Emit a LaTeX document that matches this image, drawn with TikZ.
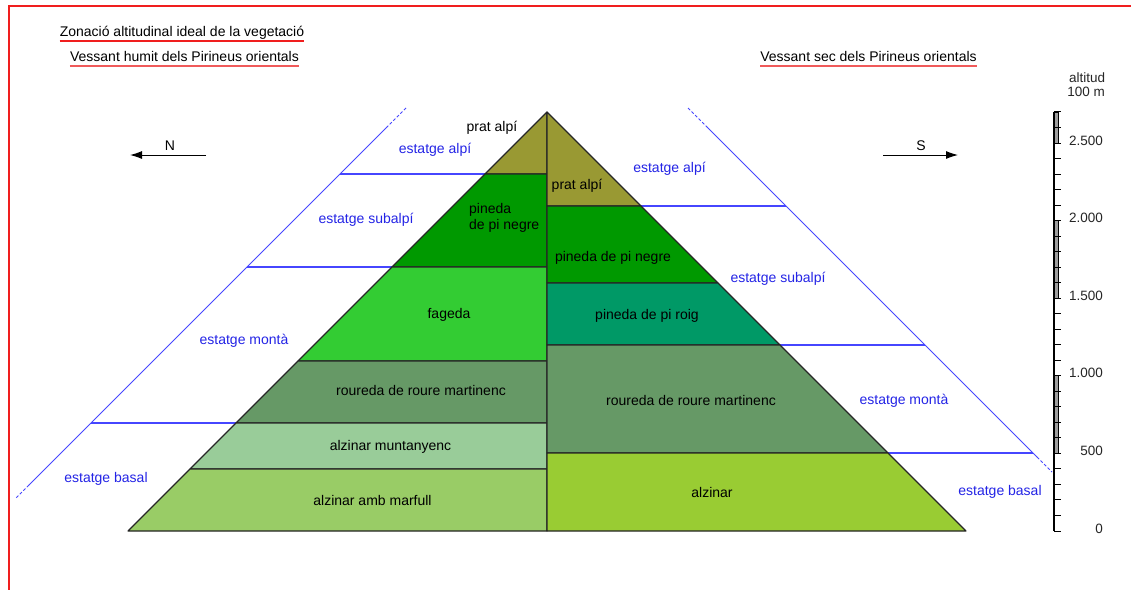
\documentclass[tikz,border=0pt]{standalone}
\usepackage{fontspec}
\setmainfont{Liberation Sans}
\usetikzlibrary{arrows.meta}
\definecolor{pratcol}{RGB}{153,153,51}
\definecolor{negrecol}{RGB}{0,153,0}
\definecolor{fagcol}{RGB}{51,204,51}
\definecolor{rourecol}{RGB}{102,153,102}
\definecolor{muntcol}{RGB}{153,204,153}
\definecolor{marfcol}{RGB}{153,204,102}
\definecolor{roigcol}{RGB}{0,153,102}
\definecolor{alzcol}{RGB}{153,204,51}
\definecolor{zonetext}{RGB}{36,36,230}
\definecolor{zoneblue}{RGB}{70,70,255}
\definecolor{framered}{RGB}{240,30,30}
\definecolor{subred}{RGB}{240,90,90}

\begin{document}
\begin{tikzpicture}[
    x=1pt, y=-1pt,
    lbl/.style={font=\fontsize{14}{16}\selectfont, inner sep=0pt},
    zone/.style={lbl, text=zonetext},
    band/.style={draw=black!85, line width=1.1pt, line join=round},
    zoneedge/.style={draw=zoneblue, line width=0.9pt},
    zoneline/.style={draw=zoneblue, line width=1.3pt},
    gapline/.style={zoneedge, dash pattern=on 3pt off 2pt},
    compass/.style={line width=1pt, -{Latex[length=12pt,width=8pt]}},
    scalenum/.style={font=\fontsize{13.5}{15}\selectfont, inner sep=0pt, text=black!85}
]
    \useasboundingbox (0,0) rectangle (1131,590);
    \fill[white] (0,0) rectangle (1131,590);
    \draw[framered, line width=1.4pt] (1131,6) -- (9,6) -- (9,590);

    \node (title) [lbl, anchor=base] at (182,36.7) {Zonació altitudinal ideal de la vegetació};
    \node (humit) [lbl, anchor=base] at (184.5,61.7) {Vessant humit dels Pirineus orientals};
    \node (sec) [lbl, anchor=base] at (868.5,61.7) {Vessant sec dels Pirineus orientals};
    \draw[framered, line width=1.5pt] ([yshift=-4.5pt]title.base west) -- ([yshift=-4.5pt]title.base east);
    \draw[subred, line width=1.5pt] ([yshift=-4.5pt]humit.base west) -- ([yshift=-4.5pt]humit.base east);
    \draw[subred, line width=1.5pt] ([yshift=-4.5pt]sec.base west) -- ([yshift=-4.5pt]sec.base east);

    \coordinate (n0) at (206,155);
    \coordinate (n1) at (130,155);
    \coordinate (s0) at (883,155);
    \coordinate (s1) at (958,155);
    \draw[compass] (n0) -- (n1);
    \draw[compass] (s0) -- (s1);
    \node (north) [lbl, anchor=base] at (170,150) {N};
    \node (south) [lbl, anchor=base] at (921,150.5) {S};

    \coordinate (Ltop) at (406,108);
    \coordinate (La) at (387,127);
    \coordinate (Lb) at (29,485);
    \coordinate (Lbot) at (15,499);
    \coordinate (Rtop) at (688,108);
    \coordinate (Ra) at (707,127);
    \coordinate (Rb) at (1037,457);
    \coordinate (Rbot) at (1052,472);
    \draw[gapline] (Ltop) -- (La);
    \draw[zoneedge] (La) -- (Lb);
    \draw[gapline] (Lb) -- (Lbot);
    \draw[gapline] (Rtop) -- (Ra);
    \draw[zoneedge] (Ra) -- (Rb);
    \draw[gapline] (Rb) -- (Rbot);
    \foreach \y in {174,267,423}
        \draw[zoneline] ({514-\y},\y) -- ({659-\y},\y);
    \foreach \y in {206,345,453}
        \draw[zoneline] ({435+\y},\y) -- ({580+\y},\y);

    \foreach \ya/\yb/\col in {112/174/pratcol,174/267/negrecol,267/361/fagcol,361/423/rourecol,423/469/muntcol,469/531/marfcol}
        \filldraw[band, fill=\col] ({659-\ya},\ya) -- (547,\ya) -- (547,\yb) -- ({659-\yb},\yb) -- cycle;
    \foreach \ya/\yb/\col in {112/206/pratcol,206/283/negrecol,283/345/roigcol,345/453/rourecol,453/531/alzcol}
        \filldraw[band, fill=\col] (547,\ya) -- ({435+\ya},\ya) -- ({435+\yb},\yb) -- (547,\yb) -- cycle;

    \node (Lalpi) [zone, anchor=base] at (435,153.5) {estatge alpí};
    \node (Lsubalpi) [zone, anchor=base] at (366,223.5) {estatge subalpí};
    \node (Lmonta) [zone, anchor=base] at (244,344.5) {estatge montà};
    \node (Lbasal) [zone, anchor=base] at (106,482) {estatge basal};
    \node (Ralpi) [zone, anchor=base] at (669.5,172.5) {estatge alpí};
    \node (Rsubalpi) [zone, anchor=base] at (778,282) {estatge subalpí};
    \node (Rmonta) [zone, anchor=base] at (904,404) {estatge montà};
    \node (Rbasal) [zone, anchor=base] at (1000,495.5) {estatge basal};

    \node (Lprat) [lbl, anchor=base] at (492,131) {prat alpí};
    \node (Lnegre) [lbl, anchor=west, align=left] at (469,218) {pineda\\de pi negre};
    \node (Lfageda) [lbl, anchor=base] at (449,318.5) {fageda};
    \node (Lroure) [lbl, anchor=base] at (421,395) {roureda de roure martinenc};
    \node (Lmunt) [lbl, anchor=base] at (390.5,450.5) {alzinar muntanyenc};
    \node (Lmarf) [lbl, anchor=base] at (372.5,505) {alzinar amb marfull};
    \node (Rprat) [lbl, anchor=base] at (577,189.5) {prat alpí};
    \node (Rnegre) [lbl, anchor=base] at (613,261) {pineda de pi negre};
    \node (Rroig) [lbl, anchor=base] at (647,319.5) {pineda de pi roig};
    \node (Rroure) [lbl, anchor=base] at (691,405) {roureda de roure martinenc};
    \node (Ralz) [lbl, anchor=base] at (712,497.5) {alzinar};

    \node (alt) [scalenum, anchor=base] at (1087,82) {altitud};
    \node (unit) [scalenum, anchor=base] at (1086,96.7) {100 m};
    \draw[line width=1.2pt] (1054,531) -- (1054,{531-0.1552*2700});
    \foreach \a/\b in {500/1000,1500/2000,2500/2700}
        \filldraw[fill=gray!75, draw=black, line width=0.9pt] (1054,{531-0.1552*\a}) rectangle (1058,{531-0.1552*\b});
    \foreach \k in {0,...,27}
        \draw[line width=1pt] (1054,{531-15.52*\k}) -- ++(6.5,0);
    \foreach \v/\t in {0/0,500/500,1000/1.000,1500/1.500,2000/2.000,2500/2.500}
        \node (h\v) [scalenum, anchor=base east] at (1103,{533-0.1552*\v}) {\t};
\end{tikzpicture}
\end{document}
